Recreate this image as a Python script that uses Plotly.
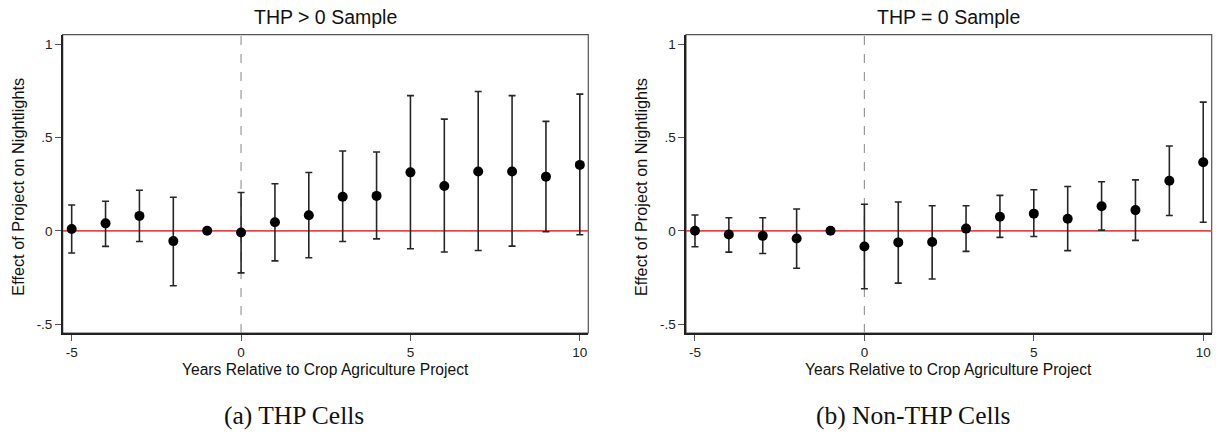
import plotly.graph_objects as go

# ---- data ----
years = [-5, -4, -3, -2, -1, 0, 1, 2, 3, 4, 5, 6, 7, 8, 9, 10]

thp_coef = [0.010, 0.040, 0.080, -0.055, 0.0, -0.009, 0.046, 0.083, 0.182, 0.187,
            0.313, 0.240, 0.318, 0.318, 0.290, 0.353]
thp_hi = [0.138, 0.158, 0.217, 0.180, 0.0, 0.205, 0.252, 0.312, 0.427, 0.422,
          0.724, 0.598, 0.746, 0.724, 0.586, 0.732]
thp_lo = [-0.119, -0.083, -0.057, -0.294, 0.0, -0.225, -0.161, -0.144, -0.057, -0.043,
          -0.096, -0.113, -0.105, -0.082, -0.005, -0.021]

non_coef = [0.0, -0.020, -0.027, -0.041, 0.0, -0.084, -0.062, -0.060, 0.012, 0.075,
            0.092, 0.065, 0.132, 0.111, 0.268, 0.367]
non_hi = [0.085, 0.070, 0.070, 0.117, 0.0, 0.142, 0.154, 0.134, 0.134, 0.190,
          0.220, 0.237, 0.263, 0.273, 0.454, 0.689]
non_lo = [-0.085, -0.114, -0.121, -0.200, 0.0, -0.310, -0.280, -0.258, -0.110, -0.035,
          -0.030, -0.106, 0.004, -0.051, 0.082, 0.046]

panel_titles = ["THP > 0 Sample", "THP = 0 Sample"]
captions = ["(a) THP Cells", "(b) Non-THP Cells"]
x_title = "Years Relative to Crop Agriculture Project"
y_title = "Effect of Project on Nightlights"
x_ticks = [-5, 0, 5, 10]
x_ticklabels = ["-5", "0", "5", "10"]
y_ticks = [-0.5, 0, 0.5, 1]
y_ticklabels = ["-.5", "0", ".5", "1"]

# ---- figure ----
W, H = 1216, 440
SANS = "Liberation Sans, Arial, Helvetica, sans-serif"
SERIF = "Liberation Serif, Times New Roman, serif"


def px(xw):
    return xw / W


def py(yw):
    return 1 - yw / H


fig = go.Figure()

panels = [(thp_coef, thp_lo, thp_hi), (non_coef, non_lo, non_hi)]
xdomains = [[px(62.7), px(588.3)], [px(686.0), px(1211.7)]]
ydomain = [py(333.0), py(34.7)]

for i, (coef, lo, hi) in enumerate(panels):
    xa = "x" if i == 0 else "x2"
    ya = "y" if i == 0 else "y2"
    fig.add_trace(go.Scatter(
        x=years, y=coef, mode="markers", xaxis=xa, yaxis=ya,
        marker=dict(color="black", size=10),
        error_y=dict(type="data", symmetric=False,
                     array=[h - c for h, c in zip(hi, coef)],
                     arrayminus=[c - l for c, l in zip(coef, lo)],
                     color="#262626", thickness=1.6, width=3.5),
        showlegend=False, hoverinfo="skip",
    ))

axis_common = dict(
    showgrid=False, zeroline=False, showline=True, linecolor="#222222",
    linewidth=1.6, ticks="outside", ticklen=6, tickwidth=1, tickcolor="#555555",
    tickfont=dict(family=SANS, size=13.5, color="#222222"),
)

for i in range(2):
    sfx = "" if i == 0 else "2"
    fig.layout["xaxis" + sfx] = dict(
        axis_common, domain=xdomains[i], range=[-5.265, 10.25],
        tickvals=x_ticks, ticktext=x_ticklabels,
        anchor="y" + sfx,
    )
    fig.layout["yaxis" + sfx] = dict(
        axis_common, domain=ydomain, range=[-0.547, 1.05],
        tickvals=y_ticks, ticktext=y_ticklabels,
        anchor="x" + sfx,
    )
    xr = "x" + sfx
    yr = "y" + sfx
    # box (top/right thin borders)
    fig.add_shape(type="rect", xref=xr + " domain", yref=yr + " domain",
                  x0=0, x1=1, y0=0, y1=1, line=dict(color="#555555", width=1.2),
                  layer="below")
    # red zero line
    fig.add_shape(type="line", xref=xr + " domain", yref=yr,
                  x0=0, x1=1, y0=0, y1=0, line=dict(color="#e8474b", width=1.6),
                  layer="below")
    # dashed vertical line at year 0
    fig.add_shape(type="line", xref=xr, yref=yr + " domain",
                  x0=0, x1=0, y0=0, y1=1,
                  line=dict(color="#9a9a9a", width=1.2, dash="dash"),
                  layer="below")

    cx = (xdomains[i][0] + xdomains[i][1]) / 2
    fig.add_annotation(text=panel_titles[i], xref="paper", yref="paper",
                       x=cx, y=py(17), xanchor="center", yanchor="middle",
                       showarrow=False, font=dict(family=SANS, size=19.5, color="#111111"))
    fig.add_annotation(text=x_title, xref="paper", yref="paper",
                       x=cx, y=py(369), xanchor="center", yanchor="middle",
                       showarrow=False, font=dict(family=SANS, size=15.6, color="#111111"))
    yx = [17.7, 641.0][i]
    fig.add_annotation(text=y_title, xref="paper", yref="paper",
                       x=px(yx), y=py(187), textangle=-90,
                       xanchor="center", yanchor="middle",
                       showarrow=False, font=dict(family=SANS, size=16.3, color="#111111"))
    capx = [294.0, 913.0][i]
    fig.add_annotation(text=captions[i], xref="paper", yref="paper",
                       x=px(capx), y=py(415), xanchor="center", yanchor="middle",
                       showarrow=False, font=dict(family=SERIF, size=25.5, color="#111111"))

fig.update_layout(
    width=W, height=H, margin=dict(l=0, r=0, t=0, b=0),
    paper_bgcolor="white", plot_bgcolor="white",
)

fig.write_html(
    "out.html",
    config={"displayModeBar": False, "staticPlot": True},
    post_script="document.body.style.margin='0';document.body.style.overflow='hidden';",
)
